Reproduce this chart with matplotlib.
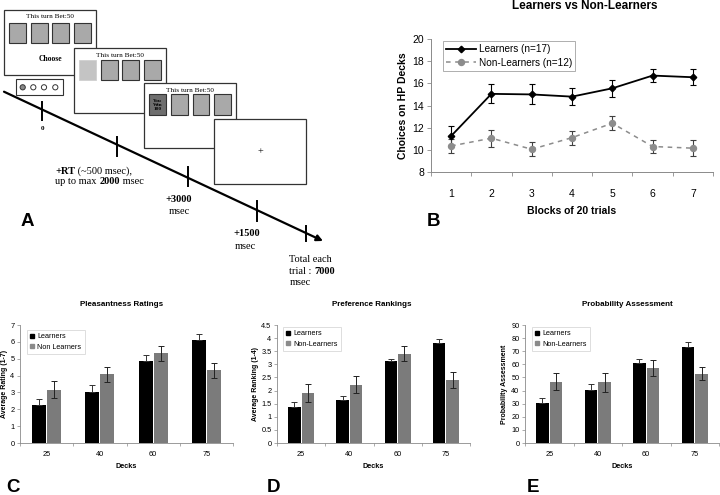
import matplotlib
matplotlib.use("Agg")
import matplotlib.pyplot as plt
from matplotlib.patches import Rectangle, Circle
from matplotlib.lines import Line2D
import numpy as np

# ---------------- data ----------------
blocks = [1, 2, 3, 4, 5, 6, 7]
learners_hp = [11.25, 15.05, 15.0, 14.8, 15.55, 16.7, 16.55]
learners_hp_err = [0.9, 0.85, 0.9, 0.78, 0.75, 0.6, 0.73]
nonlearners_hp = [10.35, 11.05, 10.05, 11.1, 12.4, 10.3, 10.15]
nonlearners_hp_err = [0.65, 0.75, 0.65, 0.63, 0.65, 0.55, 0.7]

decks = ["25", "40", "60", "75"]
pleas_learn = [2.27, 3.05, 4.88, 6.12]
pleas_learn_err = [0.33, 0.37, 0.37, 0.35]
pleas_non = [3.15, 4.08, 5.33, 4.32]
pleas_non_err = [0.5, 0.45, 0.45, 0.45]

pref_learn = [1.39, 1.63, 3.11, 3.83]
pref_learn_err = [0.17, 0.15, 0.1, 0.14]
pref_non = [1.91, 2.22, 3.41, 2.4]
pref_non_err = [0.33, 0.32, 0.28, 0.3]

prob_learn = [30.3, 40.7, 60.9, 73.0]
prob_learn_err = [4.3, 4.5, 3.5, 4.0]
prob_non = [46.7, 46.2, 57.3, 52.8]
prob_non_err = [6.5, 7.0, 6.0, 5.0]

W, H = 720, 495
fig = plt.figure(figsize=(7.2, 4.95), dpi=100)
fig.patch.set_facecolor("white")
SANS = ["Liberation Sans", "DejaVu Sans"]
SERIF = ["Liberation Serif", "DejaVu Serif"]
plt.rcParams["font.family"] = SANS


def ax_px(l, t, r, b, **kw):
    return fig.add_axes([l / W, 1 - b / H, (r - l) / W, (b - t) / H], **kw)


def fig_text(x, y, s, **kw):
    fig.text(x / W, 1 - y / H, s, **kw)


AXC = "#8a8a8a"

# ---------------- Panel A ----------------
axA = ax_px(0, 0, 360, 300)
axA.set_xlim(0, 360)
axA.set_ylim(300, 0)
axA.axis("off")

card_gray = "#a9a9a9"


def screen(x0, y0, x1, y1, title_y=None):
    axA.add_patch(Rectangle((x0, y0), x1 - x0, y1 - y0, fc="white", ec="#333333", lw=0.9, zorder=2))
    if title_y is not None:
        axA.text((x0 + x1) / 2, title_y, "This turn Bet:50", fontsize=5.2, family=SERIF,
                 ha="center", va="center", zorder=3)


def card(x0, y0, x1, y1, fc=card_gray, ec="#333333", lw=0.8):
    axA.add_patch(Rectangle((x0, y0), x1 - x0, y1 - y0, fc=fc, ec=ec, lw=lw, zorder=3))


# screen 1
screen(4, 10, 96, 75, title_y=17)
for cx in [9.3, 31, 52.3, 74]:
    card(cx, 22.7, cx + 16.7, 42.7)
axA.text(50, 58.7, "Choose", fontsize=5.5, family=SERIF, fontweight="bold", ha="center", va="center", zorder=3)
# button box
axA.add_patch(Rectangle((15.7, 79.3), 47.6, 15.4, fc="white", ec="#333333", lw=0.8, zorder=2))
for i, cx in enumerate([22.7, 33.3, 44.0, 55.3]):
    axA.add_patch(Circle((cx, 87.3), 2.6, fc="#888888" if i == 0 else "white", ec="#333333", lw=0.7, zorder=3))

# screen 2
screen(74, 48.3, 166, 113.3, title_y=55.3)
card(79.3, 60, 96, 80, fc="#c4c4c4", ec="#d0d0d0", lw=0.6)
for cx in [101, 122.3, 144]:
    card(cx, 60, cx + 16.7, 80)

# screen 3
screen(144.3, 83.3, 236, 148.3, title_y=90.7)
card(149.3, 94.3, 166, 115, fc="#6e6e6e")
axA.text(157.6, 104.6, "You\nWin\n100", fontsize=3.8, family=SERIF, fontweight="bold", ha="center",
         va="center", linespacing=1.0, zorder=4)
for cx in [171, 192.7, 214]:
    card(cx, 94.3, cx + 16.7, 115)

# screen 4
screen(214.3, 119.3, 306, 184)
axA.text(260, 152, "+", fontsize=7.5, family=SERIF, ha="center", va="center", zorder=3)

# timeline
axA.annotate("", xy=(323, 241), xytext=(4, 91.7),
             arrowprops=dict(arrowstyle="-|>", lw=1.6, color="black", mutation_scale=9,
                             shrinkA=0, shrinkB=0), zorder=5)
for tx, ty0, ty1 in [(42.3, 101.7, 120), (117.3, 136.7, 156), (187.7, 166.7, 185.7),
                     (257.3, 201, 220.7), (306, 226, 240.7)]:
    axA.plot([tx, tx], [ty0, ty1], color="black", lw=1.4, zorder=5)

axA.text(42.3, 128, "0", fontsize=5, family=SERIF, fontweight="bold", ha="center", va="center")


def chain(x, y, parts, fs=7.5):
    prev = None
    for s, bold in parts:
        fw = "bold" if bold else "normal"
        if prev is None:
            prev = axA.text(x, y, s, fontsize=fs, family=SERIF, fontweight=fw, ha="left", va="baseline")
        else:
            prev = axA.annotate(s, xy=(1, 0), xycoords=prev, fontsize=fs, family=SERIF,
                                fontweight=fw, ha="left", va="bottom")
    return prev


chain(55, 173.5, [("+RT", True), (" (~500 msec),", False)])
chain(55, 184.5, [("up to max ", False), ("2000", True), (" msec", False)])
axA.text(179, 200, "+3000", fontsize=7.5, family=SERIF, fontweight="bold", ha="center", va="center")
axA.text(179, 211.7, "msec", fontsize=7.5, family=SERIF, ha="center", va="center")
axA.text(246.7, 234, "+1500", fontsize=7.5, family=SERIF, fontweight="bold", ha="center", va="center")
axA.text(245, 246.7, "msec", fontsize=7.5, family=SERIF, ha="center", va="center")
axA.text(289.3, 262, "Total each", fontsize=7.5, family=SERIF, ha="left", va="baseline")
chain(289.3, 274, [("trial : ", False), ("7000", True)])
axA.text(289.3, 285, "msec", fontsize=7.5, family=SERIF, ha="left", va="baseline")

# ---------------- Panel B ----------------
axB = ax_px(431, 39, 713, 172)
axB.errorbar(blocks, learners_hp, yerr=learners_hp_err, color="black", lw=1.3, marker="D",
             markersize=3.3, ecolor="black", elinewidth=0.8, capsize=2.2, capthick=0.8,
             label="Learners (n=17)", zorder=3)
axB.errorbar(blocks, nonlearners_hp, yerr=nonlearners_hp_err, color="#8c8c8c", lw=1.1, ls=(0, (3, 3)),
             marker="o", markersize=4.3, ecolor="#404040", elinewidth=0.8, capsize=2.2, capthick=0.8,
             label="Non-Learners (n=12)", zorder=3)
axB.set_xlim(0.5, 7.5)
axB.set_ylim(8, 20)
axB.set_yticks(np.arange(8, 21, 2))
axB.set_xticks(blocks)
axB.set_xticks(np.arange(0.5, 7.6, 1), minor=True)
axB.tick_params(axis="x", which="major", length=0, labelsize=7.5, pad=12)
axB.tick_params(axis="x", which="minor", length=3, color=AXC, width=0.6)
axB.tick_params(axis="y", length=3, color=AXC, width=0.6, labelsize=7.5, pad=2)
for s in ["top", "right"]:
    axB.spines[s].set_visible(False)
for s in ["left", "bottom"]:
    axB.spines[s].set_color(AXC)
    axB.spines[s].set_linewidth(0.7)
axB.set_xlabel("Blocks of 20 trials", fontsize=7.5, fontweight="bold", labelpad=5)
axB.set_ylabel("Choices on HP Decks", fontsize=7.5, fontweight="bold", labelpad=3)
fig_text(585, 6, "Learners vs Non-Learners", fontsize=8.5, fontweight="bold", ha="center", va="center")
h1 = Line2D([], [], color="black", lw=1.3, marker="D", markersize=3.3)
h2 = Line2D([], [], color="#8c8c8c", lw=1.1, ls=(0, (3, 3)), marker="o", markersize=4.3)
legB = axB.legend([h1, h2], ["Learners (n=17)", "Non-Learners (n=12)"], loc="upper left",
                  bbox_to_anchor=(443 / W, 1 - 41 / H), bbox_transform=fig.transFigure,
                  fontsize=7.2, frameon=True, fancybox=False, handlelength=3.0, handletextpad=0.3,
                  borderpad=0.3, labelspacing=0.35, borderaxespad=0)
legB.get_frame().set_edgecolor(AXC)
legB.get_frame().set_linewidth(0.6)

# ---------------- bar panels ----------------


def bar_panel(box, learn, learn_err, non, non_err, ymax, ystep, title, ylabel, leg_labels,
              leg_xy, title_x):
    ax = ax_px(*box)
    x = np.arange(len(decks))
    w = 0.26
    ax.bar(x - 0.14, learn, w, color="black", zorder=2)
    ax.bar(x + 0.14, non, w, color="#7b7b7b", zorder=2)
    ax.errorbar(x - 0.14, learn, yerr=[np.zeros(4), learn_err], fmt="none", ecolor="#333333",
                elinewidth=0.7, capsize=2, capthick=0.7, zorder=3)
    ax.errorbar(x + 0.14, non, yerr=non_err, fmt="none", ecolor="#222222",
                elinewidth=0.7, capsize=2, capthick=0.7, zorder=3)
    ax.set_xlim(-0.5, 3.5)
    ax.set_ylim(0, ymax)
    ticks = np.arange(0, ymax + ystep / 2, ystep)
    ax.set_yticks(ticks)
    ax.set_yticklabels([f"{t:g}" for t in ticks])
    ax.set_xticks(x)
    ax.set_xticklabels(decks)
    ax.set_xticks(np.arange(-0.5, 3.6, 1), minor=True)
    ax.tick_params(axis="x", which="major", length=0, labelsize=5.3, pad=6)
    ax.tick_params(axis="x", which="minor", length=2, color=AXC, width=0.5)
    ax.tick_params(axis="y", length=2, color=AXC, width=0.5, labelsize=5.3, pad=2)
    for s in ["top", "right"]:
        ax.spines[s].set_visible(False)
    for s in ["left", "bottom"]:
        ax.spines[s].set_color(AXC)
        ax.spines[s].set_linewidth(0.6)
    ax.set_xlabel("Decks", fontsize=5.2, fontweight="bold", labelpad=3)
    ax.set_ylabel(ylabel, fontsize=5, fontweight="bold", labelpad=2)
    fig_text(title_x, 304, title, fontsize=5.8, fontweight="bold", ha="center", va="center")
    hs = [Line2D([], [], ls="none", marker="s", color="black", markersize=2.6),
          Line2D([], [], ls="none", marker="s", color="#8a8a8a", markersize=2.6)]
    lg = ax.legend(hs, leg_labels, loc="upper left", bbox_to_anchor=(leg_xy[0] / W, 1 - leg_xy[1] / H),
                   bbox_transform=fig.transFigure, fontsize=5.2, frameon=True, fancybox=False,
                   handlelength=0.6, handletextpad=0.4, borderpad=0.45, labelspacing=0.5,
                   borderaxespad=0)
    lg.get_frame().set_edgecolor("#cfcfcf")
    lg.get_frame().set_linewidth(0.6)
    return ax


bar_panel((20, 325, 233, 443), pleas_learn, pleas_learn_err, pleas_non, pleas_non_err,
          7, 1, "Pleasantness Ratings", "Average Rating (1-7)",
          ["Learners", "Non Learners"], (27, 330), 122)
bar_panel((277, 325, 470, 443), pref_learn, pref_learn_err, pref_non, pref_non_err,
          4.5, 0.5, "Preference Rankings", "Average Ranking (1-4)",
          ["Learners", "Non-Learners"], (283, 327), 372)
bar_panel((525, 325, 719, 443), prob_learn, prob_learn_err, prob_non, prob_non_err,
          90, 10, "Probability Assessment", "Probability Assessment",
          ["Learners", "Non-Learners"], (532, 327), 627)

# panel letters
for letter, x, y in [("A", 27, 222), ("B", 433, 222), ("C", 13, 487), ("D", 273, 488), ("E", 533, 488)]:
    fig_text(x, y, letter, fontsize=13.5, fontweight="bold", ha="center", va="center")

fig.savefig("out.png", dpi=100, facecolor="white")
